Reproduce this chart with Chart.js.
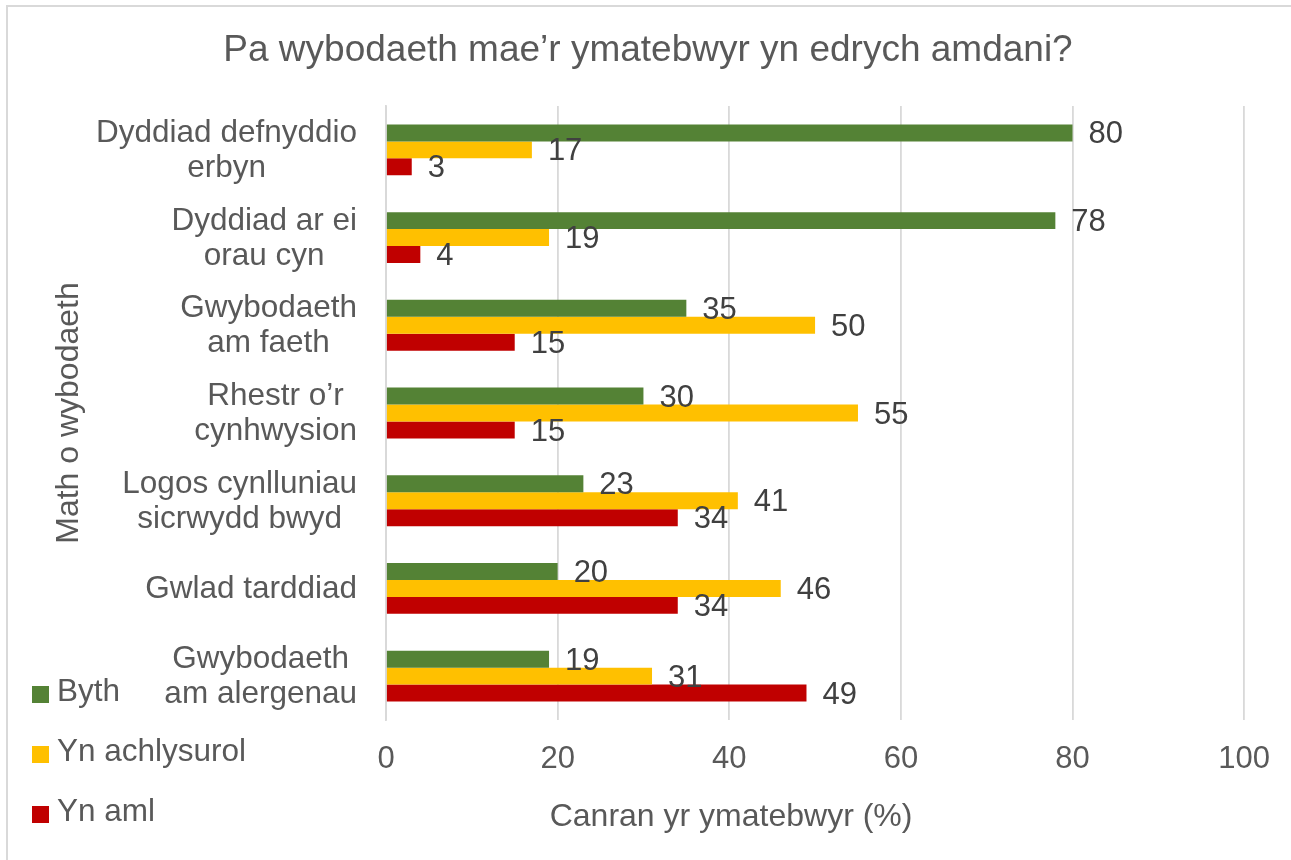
<!DOCTYPE html>
<html><head><meta charset="utf-8">
<script src="https://cdn.jsdelivr.net/npm/chart.js@4.4.0/dist/chart.umd.min.js"></script>
<style>
html,body{margin:0;padding:0;background:#fff;overflow:hidden}
#wrap{position:relative;width:1291px;height:860px}
#frame{position:absolute;left:6px;top:5px;width:1400px;height:1000px;border-top:2px solid #d9d9d9;border-left:2px solid #d9d9d9}
canvas{position:absolute;left:0;top:0}
</style></head><body>
<div id="wrap"><div id="frame"></div><canvas id="c" width="1291" height="860"></canvas></div>
<script>
const categories = [["Dyddiad defnyddio","erbyn"],["Dyddiad ar ei","orau cyn"],["Gwybodaeth","am faeth"],["Rhestr o’r","cynhwysion"],["Logos cynlluniau","sicrwydd bwyd"],["Gwlad tarddiad"],["Gwybodaeth","am alergenau"]];
const seriesNames = ["Byth","Yn achlysurol","Yn aml"];
const bythValues = [80,78,35,30,23,20,19];
const achlysurolValues = [17,19,50,55,41,46,31];
const amlValues = [3,4,15,15,34,34,49];
const xTickMin = 0, xTickMax = 100, xTickStep = 20;
const titleText = "Pa wybodaeth mae’r ymatebwyr yn edrych amdani?";
const xTitle = "Canran yr ymatebwyr (%)";
const yTitle = "Math o wybodaeth";

const FONT = '"Liberation Sans", Arial, sans-serif';
const GREY = '#595959';
Chart.defaults.font.family = FONT;

const titleShiftPlugin = {
  id:'titleShift',
  afterLayout(chart){
    const t = chart.titleBlock;
    if (t) { t.left = 5; t.right = chart.width; t.width = t.right - t.left; }
  }
};

const xTitlePlugin = {
  id:'xTitle',
  afterDraw(chart){
    const ctx = chart.ctx, ca = chart.chartArea;
    ctx.save();
    ctx.font = '32px ' + FONT;
    ctx.fillStyle = GREY;
    ctx.textAlign = 'center';
    ctx.textBaseline = 'middle';
    ctx.fillText(xTitle, (ca.left + ca.right)/2 - 84, chart.height - 43);
    ctx.restore();
  }
};

const catLabelPlugin = {
  id:'catLabels',
  afterDraw(chart){
    const ctx = chart.ctx, sc = chart.scales.y;
    ctx.save();
    ctx.font = '31.5px ' + FONT;
    ctx.fillStyle = GREY;
    ctx.textAlign = 'center';
    ctx.textBaseline = 'middle';
    const right = chart.chartArea.left - 29;
    const lh = 35;
    chart.data.labels.forEach((lab, i) => {
      const lines = Array.isArray(lab) ? lab : [lab];
      const w = Math.max(...lines.map(l => ctx.measureText(l).width));
      const cx = right - w/2;
      const cy = sc.getPixelForTick(i) + 1;
      const y0 = cy - (lines.length-1)*lh/2;
      lines.forEach((l, j) => ctx.fillText(l, cx, y0 + j*lh));
    });
    ctx.restore();
  }
};

const valueLabelPlugin = {
  id:'valueLabels',
  afterDatasetsDraw(chart){
    const ctx = chart.ctx;
    ctx.save();
    ctx.font = '31px ' + FONT;
    ctx.fillStyle = '#404040';
    ctx.textAlign = 'left';
    ctx.textBaseline = 'middle';
    chart.data.datasets.forEach((ds, di) => {
      chart.getDatasetMeta(di).data.forEach((el, i) => {
        ctx.fillText(String(ds.data[i]), el.x + 16, el.y + 2);
      });
    });
    ctx.restore();
  }
};

const legendPlugin = {
  id:'sideLegend',
  afterDraw(chart){
    const ctx = chart.ctx;
    ctx.save();
    ctx.font = '31.5px ' + FONT;
    ctx.textAlign = 'left';
    ctx.textBaseline = 'middle';
    const baseY = chart.height - 168;
    chart.data.datasets.forEach((ds, i) => {
      const y = baseY + i*60;
      ctx.fillStyle = ds.backgroundColor;
      ctx.fillRect(32, y - 6, 17, 17);
      ctx.fillStyle = GREY;
      ctx.fillText(ds.label, 57, y);
    });
    ctx.restore();
  }
};

new Chart(document.getElementById('c'), {
  type:'bar',
  data:{
    labels: categories,
    datasets:[
      {label: seriesNames[0], data: bythValues, backgroundColor:'#548235'},
      {label: seriesNames[1], data: achlysurolValues, backgroundColor:'#FFC000'},
      {label: seriesNames[2], data: amlValues, backgroundColor:'#C00000'}
    ]
  },
  options:{
    indexAxis:'y',
    responsive:false,
    animation:false,
    layout:{padding:{left:0,top:0,right:42,bottom:0}},
    datasets:{bar:{categoryPercentage:0.58, barPercentage:1.0}},
    plugins:{
      legend:{display:false},
      tooltip:{enabled:false},
      title:{display:true, text:titleText, color:GREY, font:{size:37, weight:'normal'}, padding:{top:29,bottom:32.6}}
    },
    scales:{
      x:{
        type:'linear', min:xTickMin, max:xTickMax,
        ticks:{stepSize:xTickStep, color:GREY, font:{size:31}, padding:21},
        grid:{color:'#d9d9d9', lineWidth:1.8, drawTicks:false},
        border:{display:false},
        title:{display:false},
        afterFit(s){ s.height = 140; }
      },
      y:{
        ticks:{display:false},
        grid:{display:false},
        border:{display:true, color:'#d9d9d9', width:1.8},
        title:{display:true, text:yTitle, color:GREY, font:{size:32}, padding:{top:50,bottom:0}},
        afterFit(s){ s.width = 386; }
      }
    }
  },
  plugins:[titleShiftPlugin, xTitlePlugin, catLabelPlugin, valueLabelPlugin, legendPlugin]
});
</script>
</body></html>
